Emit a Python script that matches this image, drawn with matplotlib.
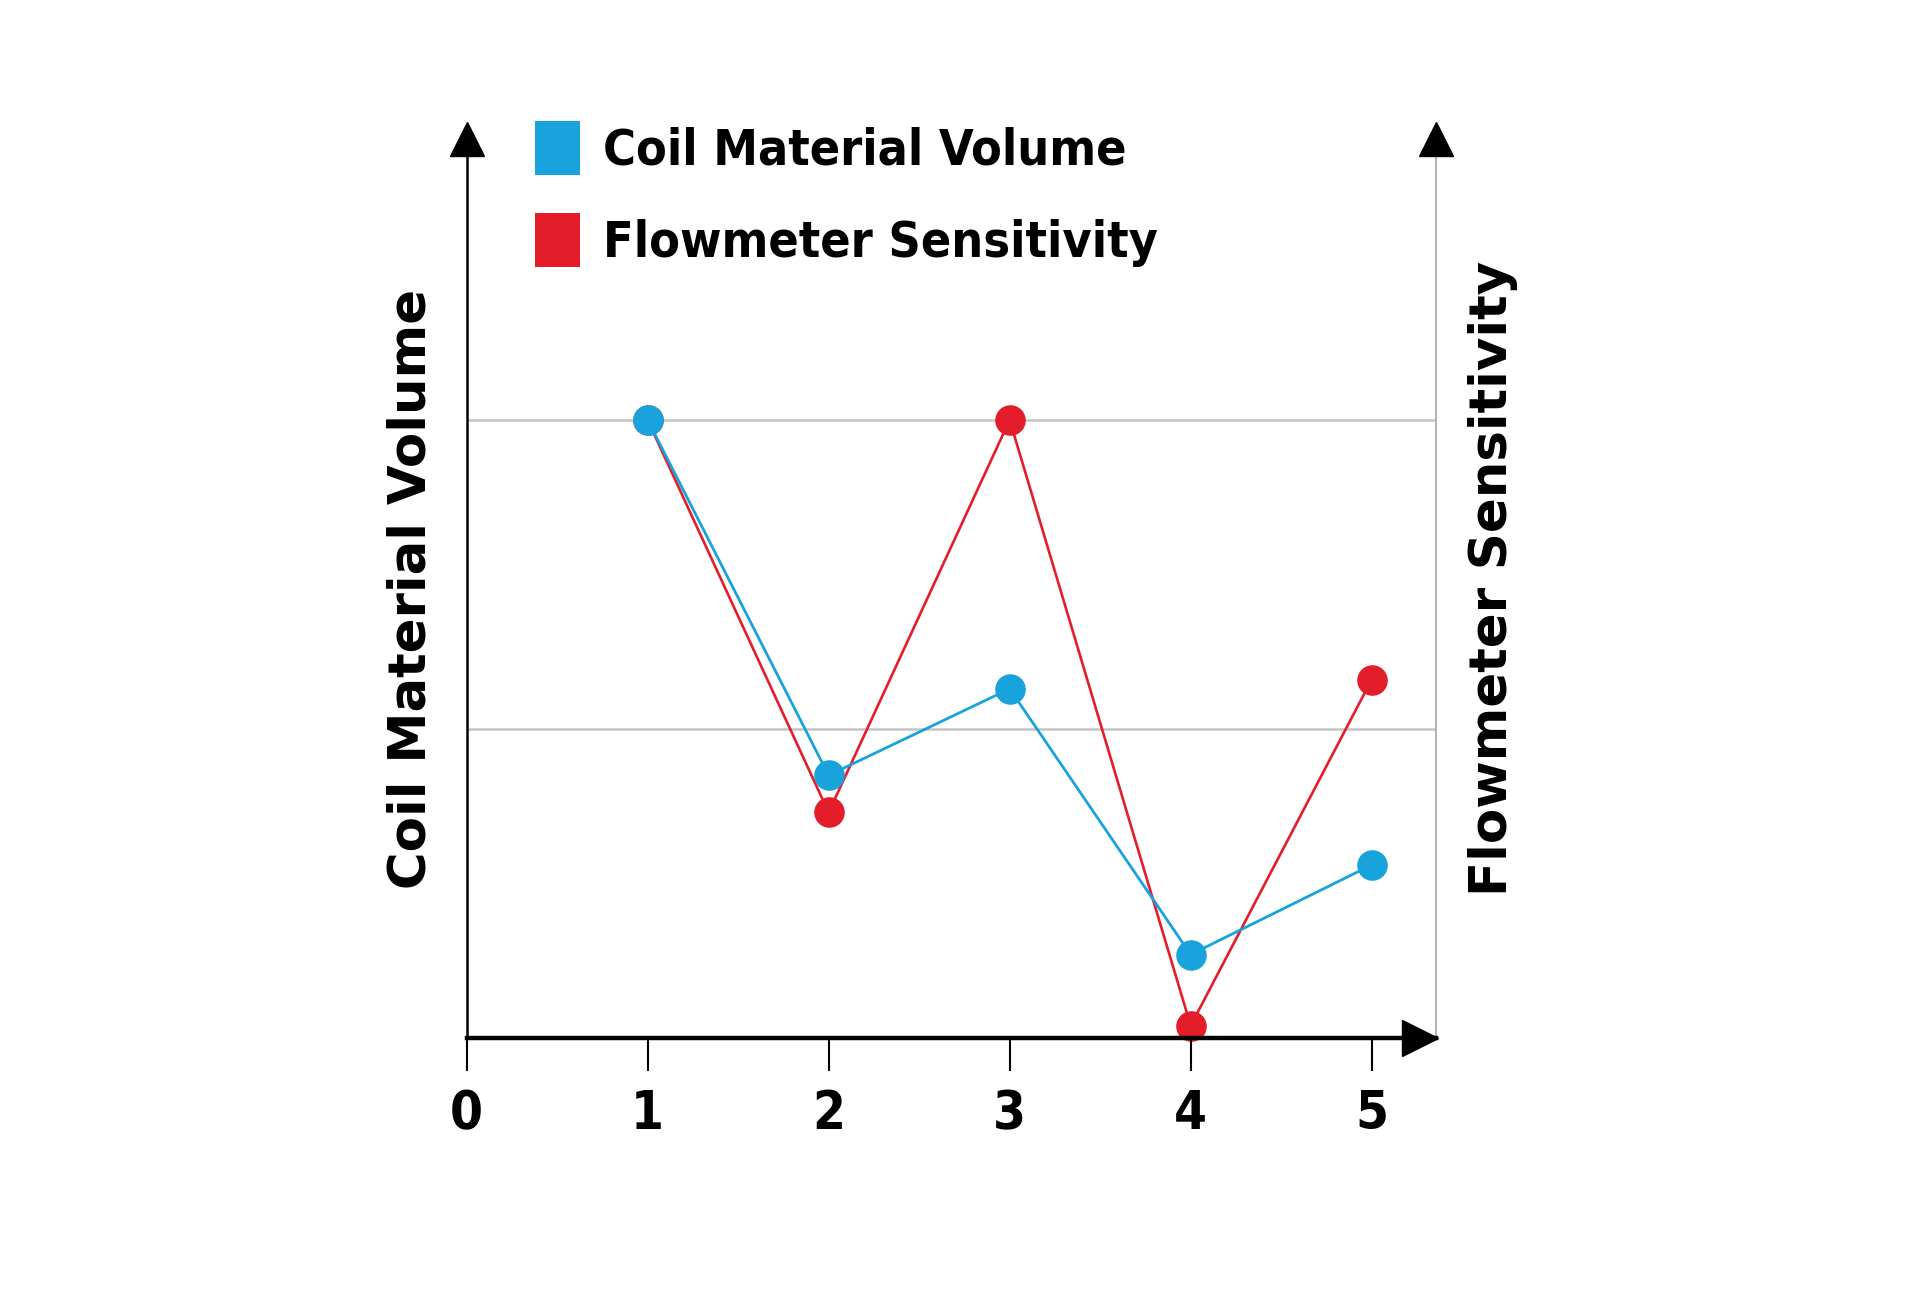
import matplotlib
matplotlib.use('Agg')
import matplotlib.pyplot as plt
from matplotlib.patches import Patch

# data
steps = [1, 2, 3, 4, 5]
coil_volume = [2.0, 0.85, 1.13, 0.27, 0.56]
sensitivity = [2.0, 0.73, 2.0, 0.04, 1.16]
tick_labels = ['0', '1', '2', '3', '4', '5']

blue = '#18a3dc'
red = '#e31d2a'

fig = plt.figure(figsize=(19.2, 12.97), dpi=100)
ax = fig.add_axes([0.243, 0.1997, 0.748 - 0.243, 0.893 - 0.1997])
ax2 = ax.twinx()

ymax = 2.91
xmax = 5.356
for a in (ax, ax2):
    a.set_xlim(0, xmax)
    a.set_ylim(0, ymax)

# grid lines live on the back axes, red series too
ax2.set_yticks([1, 2])
ax2.tick_params(axis='y', length=0, labelright=False)
ax2.yaxis.grid(True, color='#c4c4c4', linewidth=1.8)
ax2.set_axisbelow(True)
ax2.plot(steps, sensitivity, color=red, linewidth=1.9, marker='o',
         markersize=21, clip_on=False, zorder=3)

ax.set_zorder(ax2.get_zorder() + 1)
ax.patch.set_visible(False)
ax2.patch.set_facecolor('white')
ax.plot(steps, coil_volume, color=blue, linewidth=2.0, marker='o',
        markersize=21, clip_on=False, zorder=3)

# spines
for s in ['top', 'right']:
    ax.spines[s].set_visible(False)
for s in ['top', 'left', 'bottom']:
    ax2.spines[s].set_visible(False)
ax.spines['left'].set_linewidth(1.8)
ax.spines['bottom'].set_linewidth(3.2)
ax2.spines['right'].set_color('#a8a8a8')
ax2.spines['right'].set_linewidth(1.2)

# arrow heads
ax.plot(0, 1, marker='^', color='black', markersize=24, transform=ax.transAxes, clip_on=False)
ax.plot(1, 1, marker='^', color='black', markersize=24, transform=ax.transAxes, clip_on=False)
ax.plot(0.9835, 0, marker='>', color='black', markersize=26, transform=ax.transAxes, clip_on=False)

# ticks
ax.set_xticks(range(len(tick_labels)))
ax.set_xticklabels(tick_labels, family='DejaVu Sans', stretch='condensed',
                   fontsize=38, fontweight='bold')
ax.tick_params(axis='x', length=24, width=1.5, pad=12, direction='out')
ax.set_yticks([])

ax.set_ylabel('Coil Material Volume', fontsize=37, fontweight='bold',
              family='DejaVu Sans', ha='center', va='center')
ax.yaxis.set_label_coords(-0.0563, 0.499)
ax2.set_ylabel('Flowmeter Sensitivity', fontsize=37, fontweight='bold',
               family='DejaVu Sans', ha='center', va='center')
ax2.yaxis.set_label_coords(1.0586, 0.511)

handles = [Patch(facecolor=blue, edgecolor='none'), Patch(facecolor=red, edgecolor='none')]
fig.legend(handles, ['Coil Material Volume', 'Flowmeter Sensitivity'],
           loc='upper left', bbox_to_anchor=(0.2786, 0.907), frameon=False,
           prop={'family': 'DejaVu Sans', 'stretch': 'condensed', 'size': 36, 'weight': 'bold'},
           handlelength=0.91, handleheight=1.3, handletextpad=0.45,
           labelspacing=0.75, borderpad=0, borderaxespad=0)

fig.savefig('out.png', dpi=100, facecolor='white')
